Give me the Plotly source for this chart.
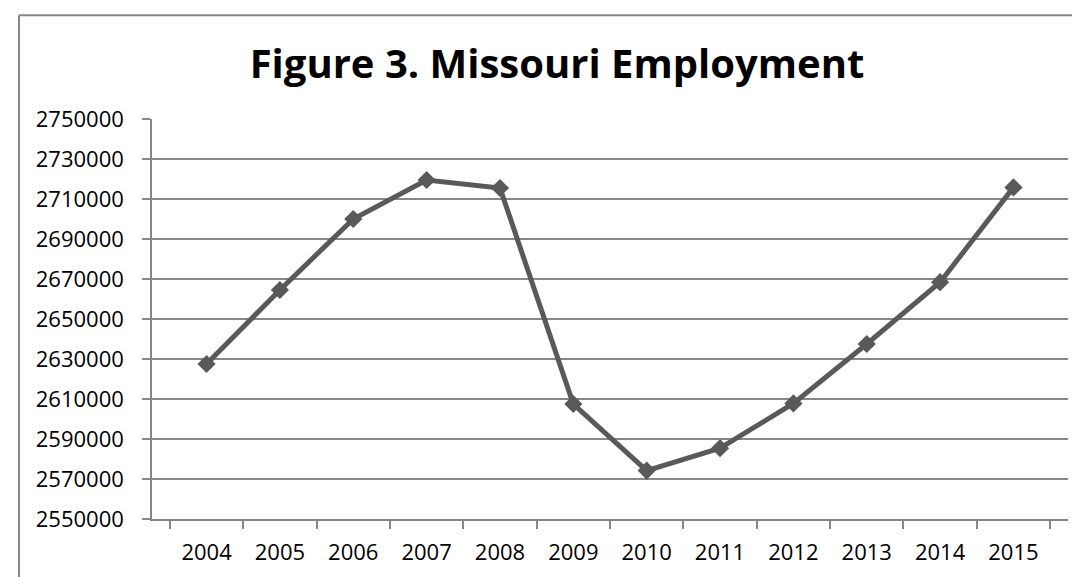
import plotly.graph_objects as go

years = ["2004", "2005", "2006", "2007", "2008", "2009", "2010", "2011", "2012", "2013", "2014", "2015"]
employment = [2627500, 2664500, 2700000, 2719500, 2715500, 2607500, 2574200, 2585400, 2607800, 2637500, 2668400, 2715800]
y_ticks = list(range(2550000, 2750001, 20000))

LINE = "#595959"
GRID = "#878787"

fig = go.Figure()
fig.add_trace(go.Scatter(
    x=years, y=employment, mode="lines+markers",
    line=dict(color=LINE, width=5),
    marker=dict(symbol="diamond", size=14, color=LINE),
    showlegend=False, hoverinfo="x+y",
))

font_family = "Open Sans, Liberation Sans, sans-serif"

fig.update_layout(
    width=1080, height=577,
    margin=dict(l=144, r=20, t=111, b=66, pad=0),
    paper_bgcolor="white", plot_bgcolor="white",
    title=dict(
        text="<b>Figure 3. Missouri Employment</b>",
        font=dict(family=font_family, size=40, color="black"),
        xref="container", yref="container",
        x=549 / 1080, xanchor="center", y=0.903, yanchor="middle",
    ),
    xaxis=dict(
        type="category", tickson="boundaries",
        ticks="outside", ticklen=8, tickwidth=1.5, tickcolor=GRID,
        showline=True, linecolor=GRID, linewidth=1.5,
        showgrid=False, zeroline=False,
        tickfont=dict(family=font_family, size=22, color="black"),
        ticklabelstandoff=13,
    ),
    yaxis=dict(
        range=[2550000, 2750000], tickvals=y_ticks,
        tickformat="d",
        ticks="outside", ticklen=8, tickwidth=1.5, tickcolor=GRID,
        showline=True, linecolor=GRID, linewidth=1.5,
        showgrid=True, gridcolor=GRID, gridwidth=1.5,
        zeroline=False,
        tickfont=dict(family=font_family, size=22, color="black"),
        ticklabelstandoff=14,
    ),
    shapes=[
        dict(type="line", xref="paper", yref="paper",
             x0=(11 - 144) / 916, x1=(1085 - 144) / 916,
             y0=(510.7 - 7) / 400, y1=(510.7 - 7) / 400,
             line=dict(color=GRID, width=2)),
        dict(type="line", xref="paper", yref="paper",
             x0=(11 - 144) / 916, x1=(11 - 144) / 916,
             y0=(510.7 - 7) / 400, y1=(510.7 - 585) / 400,
             line=dict(color=GRID, width=2)),
    ],
)

fig.write_html("out.html")
